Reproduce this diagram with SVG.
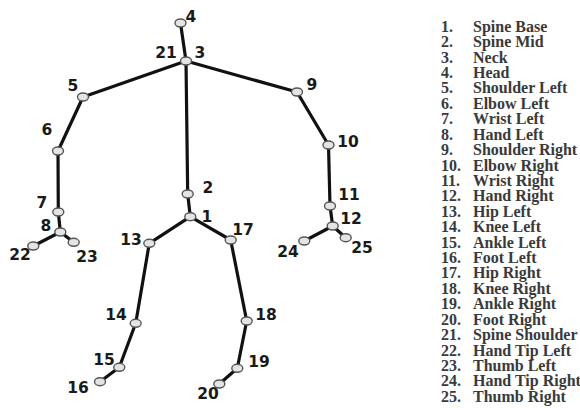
<svg xmlns="http://www.w3.org/2000/svg" width="580" height="408" viewBox="0 0 580 408">
  <style>
    .bone { stroke: #111; stroke-width: 3.2; stroke-linecap: round; fill: none; }
    .joint { fill: #e4e4e4; stroke: #555; stroke-width: 1.4; }
    .lbl { font-family: "DejaVu Sans", Verdana, sans-serif; font-weight: bold; font-size: 15.5px; fill: #1a1a1a; text-anchor: middle; }
    .key { font-family: "Liberation Serif", "Times New Roman", serif; font-weight: bold; font-size: 16px; fill: #3a3a3a; }
  </style>
  <rect width="580" height="408" fill="#ffffff"/>

  <!-- skeleton bones -->
  <g id="connectors">
    <line class="bone" x1="180.5" y1="23" x2="186" y2="61"/>
    <line class="bone" x1="186" y1="61" x2="187.7" y2="194"/>
    <line class="bone" x1="187.7" y1="194" x2="190.3" y2="216.7"/>
    <line class="bone" x1="186" y1="61" x2="83" y2="97"/>
    <line class="bone" x1="83" y1="97" x2="58" y2="151"/>
    <line class="bone" x1="58" y1="151" x2="58.3" y2="212"/>
    <line class="bone" x1="58.3" y1="212" x2="60.3" y2="232"/>
    <line class="bone" x1="60.3" y1="232" x2="33.3" y2="246"/>
    <line class="bone" x1="60.3" y1="232" x2="73.7" y2="242.3"/>
    <line class="bone" x1="186" y1="61" x2="297" y2="92"/>
    <line class="bone" x1="297" y1="92" x2="328.5" y2="145"/>
    <line class="bone" x1="328.5" y1="145" x2="330" y2="206"/>
    <line class="bone" x1="330" y1="206" x2="332.7" y2="226"/>
    <line class="bone" x1="332.7" y1="226" x2="304.3" y2="241"/>
    <line class="bone" x1="332.7" y1="226" x2="345.7" y2="237.7"/>
    <line class="bone" x1="190.3" y1="216.7" x2="149.3" y2="243.3"/>
    <line class="bone" x1="149.3" y1="243.3" x2="135.7" y2="323.3"/>
    <line class="bone" x1="135.7" y1="323.3" x2="119.3" y2="367.3"/>
    <line class="bone" x1="119.3" y1="367.3" x2="100" y2="381.7"/>
    <line class="bone" x1="190.3" y1="216.7" x2="230.7" y2="240"/>
    <line class="bone" x1="230.7" y1="240" x2="246.7" y2="321"/>
    <line class="bone" x1="246.7" y1="321" x2="237.3" y2="368.3"/>
    <line class="bone" x1="237.3" y1="368.3" x2="219.3" y2="384"/>
  </g>

  <!-- joints -->
  <g id="joint-1"><ellipse class="joint" cx="190.3" cy="216.7" rx="5.5" ry="4"/><text class="lbl" x="207" y="222">1</text></g>
  <g id="joint-2"><ellipse class="joint" cx="187.7" cy="194" rx="5.5" ry="4"/><text class="lbl" x="208" y="193">2</text></g>
  <g id="joint-3"><ellipse class="joint" cx="186" cy="61" rx="5.5" ry="4"/><text class="lbl" x="200" y="58">3</text></g>
  <g id="joint-21"><text class="lbl" x="166" y="58">21</text></g>
  <g id="joint-4"><ellipse class="joint" cx="180.5" cy="23" rx="5.5" ry="4"/><text class="lbl" x="191" y="22">4</text></g>
  <g id="joint-5"><ellipse class="joint" cx="83" cy="97" rx="5.5" ry="4"/><text class="lbl" x="73" y="91">5</text></g>
  <g id="joint-6"><ellipse class="joint" cx="58" cy="151" rx="5.5" ry="4"/><text class="lbl" x="47" y="135">6</text></g>
  <g id="joint-7"><ellipse class="joint" cx="58.3" cy="212" rx="5.5" ry="4"/><text class="lbl" x="42" y="208">7</text></g>
  <g id="joint-8"><ellipse class="joint" cx="60.3" cy="232" rx="5.5" ry="4"/><text class="lbl" x="46" y="231">8</text></g>
  <g id="joint-9"><ellipse class="joint" cx="297" cy="92" rx="5.5" ry="4"/><text class="lbl" x="312" y="90">9</text></g>
  <g id="joint-10"><ellipse class="joint" cx="328.5" cy="145" rx="5.5" ry="4"/><text class="lbl" x="348" y="147">10</text></g>
  <g id="joint-11"><ellipse class="joint" cx="330" cy="206" rx="5.5" ry="4"/><text class="lbl" x="349" y="200">11</text></g>
  <g id="joint-12"><ellipse class="joint" cx="332.7" cy="226" rx="5.5" ry="4"/><text class="lbl" x="351" y="224">12</text></g>
  <g id="joint-13"><ellipse class="joint" cx="149.3" cy="243.3" rx="5.5" ry="4"/><text class="lbl" x="131" y="245">13</text></g>
  <g id="joint-14"><ellipse class="joint" cx="135.7" cy="323.3" rx="5.5" ry="4"/><text class="lbl" x="116" y="320">14</text></g>
  <g id="joint-15"><ellipse class="joint" cx="119.3" cy="367.3" rx="5.5" ry="4"/><text class="lbl" x="104" y="365">15</text></g>
  <g id="joint-16"><ellipse class="joint" cx="100" cy="381.7" rx="5.5" ry="4"/><text class="lbl" x="78" y="393">16</text></g>
  <g id="joint-17"><ellipse class="joint" cx="230.7" cy="240" rx="5.5" ry="4"/><text class="lbl" x="243" y="235">17</text></g>
  <g id="joint-18"><ellipse class="joint" cx="246.7" cy="321" rx="5.5" ry="4"/><text class="lbl" x="266" y="320">18</text></g>
  <g id="joint-19"><ellipse class="joint" cx="237.3" cy="368.3" rx="5.5" ry="4"/><text class="lbl" x="259" y="367">19</text></g>
  <g id="joint-20"><ellipse class="joint" cx="219.3" cy="384" rx="5.5" ry="4"/><text class="lbl" x="208" y="399">20</text></g>
  <g id="joint-22"><ellipse class="joint" cx="33.3" cy="246" rx="5.5" ry="4"/><text class="lbl" x="20" y="260">22</text></g>
  <g id="joint-23"><ellipse class="joint" cx="73.7" cy="242.3" rx="5.5" ry="4"/><text class="lbl" x="87" y="262">23</text></g>
  <g id="joint-24"><ellipse class="joint" cx="304.3" cy="241" rx="5.5" ry="4"/><text class="lbl" x="288" y="257">24</text></g>
  <g id="joint-25"><ellipse class="joint" cx="345.7" cy="237.7" rx="5.5" ry="4"/><text class="lbl" x="362" y="253">25</text></g>

  <!-- joint index -->
  <g id="legend" class="key">
    <text x="441" y="31.7">1.</text><text x="473" y="31.7">Spine Base</text>
    <text x="441" y="47.1">2.</text><text x="473" y="47.1">Spine Mid</text>
    <text x="441" y="62.5">3.</text><text x="473" y="62.5">Neck</text>
    <text x="441" y="78">4.</text><text x="473" y="78">Head</text>
    <text x="441" y="93.4">5.</text><text x="473" y="93.4">Shoulder Left</text>
    <text x="441" y="108.8">6.</text><text x="473" y="108.8">Elbow Left</text>
    <text x="441" y="124.2">7.</text><text x="473" y="124.2">Wrist Left</text>
    <text x="441" y="139.6">8.</text><text x="473" y="139.6">Hand Left</text>
    <text x="441" y="155">9.</text><text x="473" y="155">Shoulder Right</text>
    <text x="441" y="170.5">10.</text><text x="473" y="170.5">Elbow Right</text>
    <text x="441" y="185.9">11.</text><text x="473" y="185.9">Wrist Right</text>
    <text x="441" y="201.3">12.</text><text x="473" y="201.3">Hand Right</text>
    <text x="441" y="216.7">13.</text><text x="473" y="216.7">Hip Left</text>
    <text x="441" y="232.1">14.</text><text x="473" y="232.1">Knee Left</text>
    <text x="441" y="247.5">15.</text><text x="473" y="247.5">Ankle Left</text>
    <text x="441" y="263">16.</text><text x="473" y="263">Foot Left</text>
    <text x="441" y="278.4">17.</text><text x="473" y="278.4">Hip Right</text>
    <text x="441" y="293.8">18.</text><text x="473" y="293.8">Knee Right</text>
    <text x="441" y="309.2">19.</text><text x="473" y="309.2">Ankle Right</text>
    <text x="441" y="324.6">20.</text><text x="473" y="324.6">Foot Right</text>
    <text x="441" y="340">21.</text><text x="473" y="340">Spine Shoulder</text>
    <text x="441" y="355.5">22.</text><text x="473" y="355.5">Hand Tip Left</text>
    <text x="441" y="370.9">23.</text><text x="473" y="370.9">Thumb Left</text>
    <text x="441" y="386.3">24.</text><text x="473" y="386.3">Hand Tip Right</text>
    <text x="441" y="401.7">25.</text><text x="473" y="401.7">Thumb Right</text>
  </g>
</svg>
